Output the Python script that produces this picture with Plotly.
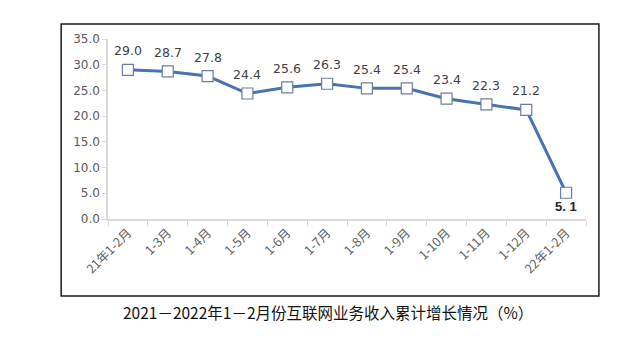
import plotly.graph_objects as go

categories = ["21年1-2月", "1-3月", "1-4月", "1-5月", "1-6月", "1-7月", "1-8月",
              "1-9月", "1-10月", "1-11月", "1-12月", "22年1-2月"]
growth = [29.0, 28.7, 27.8, 24.4, 25.6, 26.3, 25.4, 25.4, 23.4, 22.3, 21.2, 5.1]
label_text = ["29.0", "28.7", "27.8", "24.4", "25.6", "26.3", "25.4", "25.4",
              "23.4", "22.3", "21.2", "5. 1"]
title_text = "2021－2022年1－2月份互联网业务收入累计增长情况（%）"

fig = go.Figure()
fig.add_trace(go.Scatter(
    x=categories, y=growth, mode="lines+markers",
    line=dict(color="#4a72b0", width=3),
    marker=dict(symbol="square", size=11, color="white",
                line=dict(color="#6a7f9c", width=1.2)),
    hoverinfo="x+y", showlegend=False,
))

annotations = []
for i, (c, v, t) in enumerate(zip(categories, growth, label_text)):
    last = i == len(categories) - 1
    annotations.append(dict(
        x=c, y=v, xref="x", yref="y", text=t, showarrow=False,
        yshift=-14 if last else 19,
        font=dict(family="DejaVu Sans, sans-serif" if not last else "Liberation Sans, Arial, sans-serif",
                  size=12.5 if not last else 13, color="#404040" if not last else "#222222",
                  weight="bold" if last else "normal"),
    ))

annotations.append(dict(
    x=0.461, y=-0.515, xref="paper", yref="paper", text=title_text,
    showarrow=False, xanchor="center", yanchor="middle",
    font=dict(family="Noto Sans CJK SC, sans-serif", size=15.5, color="#111111"),
))

fig.update_layout(
    width=640, height=341,
    margin=dict(l=108, r=54, t=39, b=122),
    paper_bgcolor="white", plot_bgcolor="white",
    annotations=annotations,
    shapes=[dict(type="rect", xref="paper", yref="paper",
                 x0=-0.098, x1=1.027, y0=-0.428, y1=1.083,
                 line=dict(color="#1a1a1a", width=1.5))],
    font=dict(family="DejaVu Sans, sans-serif"),
)
fig.update_xaxes(
    type="category", tickangle=-45, showgrid=False,
    showline=True, linecolor="#d9d9d9", linewidth=1.5,
    ticks="outside", ticklen=5, tickcolor="#d9d9d9", tickson="boundaries",
    tickfont=dict(family="Noto Sans CJK SC, sans-serif", size=12.5, color="#606060"),
    range=[-0.5, len(categories) - 0.5],
)
fig.update_yaxes(
    range=[0, 35], dtick=5, tickformat=".1f", showgrid=False,
    showline=True, linecolor="#d9d9d9", linewidth=1.5,
    ticks="outside", ticklen=4, tickcolor="#d9d9d9",
    tickfont=dict(family="DejaVu Sans, sans-serif", size=12, color="#595959"),
    zeroline=False,
)

fig.write_html("out.html")
